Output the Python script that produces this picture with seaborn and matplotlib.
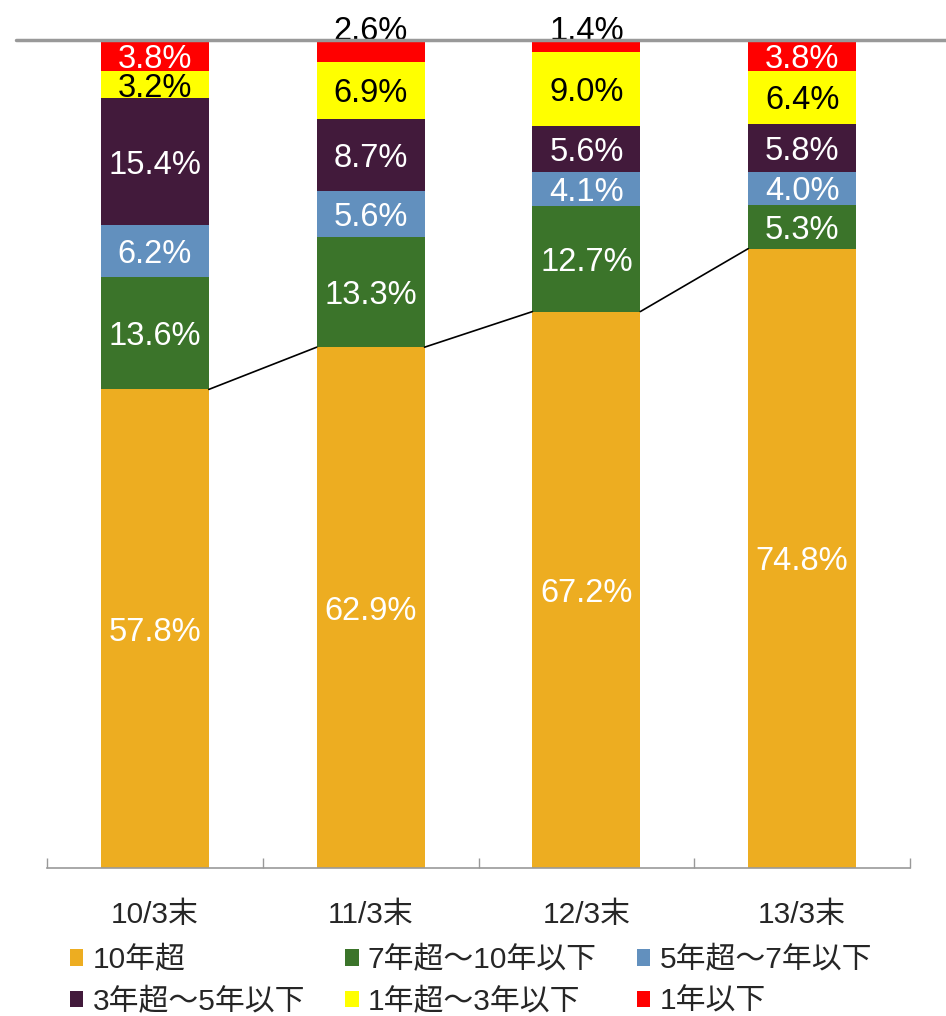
import numpy as np
import pandas as pd
import seaborn as sns
import matplotlib.pyplot as plt
from matplotlib.patches import Patch
from matplotlib.lines import Line2D

# data
categories = ["10/3末", "11/3末", "12/3末", "13/3末"]
series = ["10年超", "7年超～10年以下", "5年超～7年以下",
          "3年超～5年以下", "1年超～3年以下", "1年以下"]
over10 = [57.8, 62.9, 67.2, 74.8]
y7_10 = [13.6, 13.3, 12.7, 5.3]
y5_7 = [6.2, 5.6, 4.1, 4.0]
y3_5 = [15.4, 8.7, 5.6, 5.8]
y1_3 = [3.2, 6.9, 9.0, 6.4]
under1 = [3.8, 2.6, 1.4, 3.8]

colors = ["#EDAD21", "#3B742A", "#6290BE", "#421A3B", "#FFFF00", "#FF0000"]
text_colors = ["white", "white", "white", "white", "black", "white"]

sns.set_style("white")
plt.rcParams['font.family'] = ['Liberation Sans', 'Noto Sans CJK JP']

values = np.array([over10, y7_10, y5_7, y3_5, y1_3, under1])
cum = np.cumsum(values, axis=0)

fig = plt.figure(figsize=(9.46, 10.16), dpi=100)
ax = fig.add_axes([47 / 946, 1 - 868 / 1016, (910 - 47) / 946, (868 - 40) / 1016])

# overlapping bars, tallest first
for i in reversed(range(len(series))):
    df = pd.DataFrame({"cat": categories, "val": np.minimum(cum[i], 100)})
    sns.barplot(data=df, x="cat", y="val", color=colors[i], width=0.5,
                saturation=1, ax=ax, linewidth=0)

# labels
for j in range(len(categories)):
    for i in range(len(series)):
        v = values[i, j]
        top = min(cum[i, j], 100)
        mid = top - v / 2
        if i == 5 and v < 3:
            ax.text(j, 101.4, f"{v:.1f}%", ha="center", va="center_baseline",
                    fontsize=23.5, color="black", clip_on=False)
        else:
            ax.text(j, mid, f"{v:.1f}%", ha="center", va="center_baseline",
                    fontsize=23.5, color=text_colors[i])

# connector lines between orange segments
for j in range(len(categories) - 1):
    ax.plot([j + 0.25, j + 0.75], [over10[j], over10[j + 1]], color="black", lw=1.2)

ax.set_xlim(-0.5, 3.5)
ax.set_ylim(0, 100)
ax.set_xlabel("")
ax.set_ylabel("")
ax.set_yticks([])
for s in ["top", "left", "right"]:
    ax.spines[s].set_visible(False)
ax.spines["bottom"].set_color("#999999")
ax.spines["bottom"].set_linewidth(1.2)
ax.set_xticks(range(4))
ax.set_xticklabels(categories, fontsize=21.5)
ax.tick_params(axis="x", which="major", length=0, pad=24)
ax.set_xticks([-0.5, 0.5, 1.5, 2.5, 3.5], minor=True)
ax.tick_params(axis="x", which="minor", bottom=True, direction="in", length=7,
               color="#999999", width=1)

# top gray line
fig.add_artist(Line2D([16 / 946, 1], [1 - 40 / 1016] * 2, color="#999999",
                      lw=2.5, transform=fig.transFigure))

handles = [Patch(facecolor=c, edgecolor="none") for c in colors]
order = [0, 3, 1, 4, 2, 5]
fig.legend([handles[k] for k in order], [series[k] for k in order],
           ncol=3, loc="upper left", bbox_to_anchor=(70 / 946, 1 - 946 / 1016),
           frameon=False, borderpad=0, borderaxespad=0,
           handlelength=0.45, handleheight=0.45,
           handletextpad=0.3, columnspacing=1.35, labelspacing=0.46,
           prop={"size": 21.5})

fig.savefig("out.png", dpi=100)
